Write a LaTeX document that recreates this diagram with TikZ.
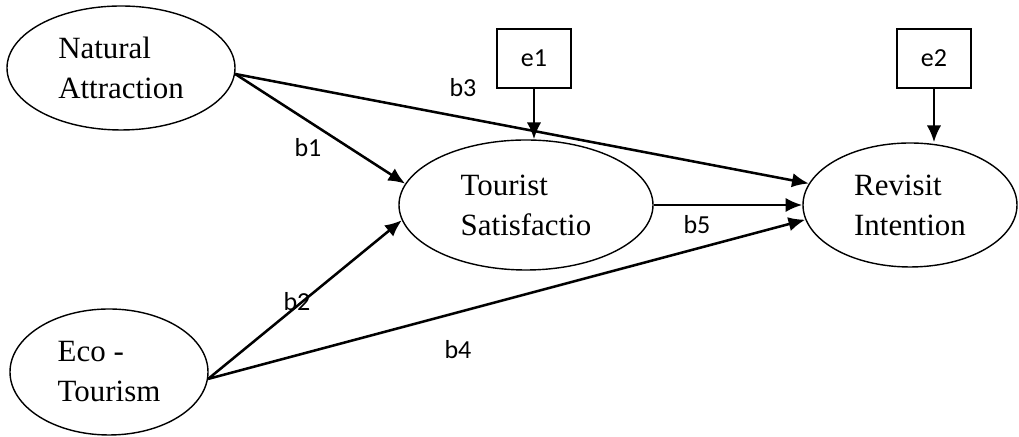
\documentclass[tikz,border=0pt]{standalone}
\usepackage{fontspec}
\setmainfont{Liberation Serif}
\newfontfamily\coeffont{Carlito}
\usepackage{tikz}
\usetikzlibrary{arrows.meta,positioning,shapes.geometric}
\tikzset{
  latent/.style={draw=black, ellipse, line width=1pt, inner sep=0pt, align=left, font=\fontsize{22}{28.5}\selectfont},
  errbox/.style={draw=black, line width=1.5pt, minimum width=1.85cm, minimum height=1.475cm, inner sep=0pt, font=\coeffont\fontsize{18.5}{22}\selectfont},
  arrow/.style={-{Latex[length=4.2mm,width=3.6mm]}, line width=1.8pt},
  coef/.style={font=\coeffont\fontsize{18.5}{22}\selectfont, inner sep=0pt}
}
\begin{document}
\begin{tikzpicture}
\useasboundingbox (0,0) rectangle (25.475,10.925);
% ---- latent variables ----
\node[latent, minimum width=5.7cm, minimum height=3.1cm] (nat) at (3.025,9.225) {Natural\\Attraction};
\node[latent, minimum width=4.95cm, minimum height=3.15cm] (eco) at (2.725,1.625) {Eco -\\Tourism};
\node[latent, minimum width=6.35cm, minimum height=3.25cm] (sat) at (13.15,5.8) {Tourist\\Satisfactio};
\node[latent, minimum width=5.35cm, minimum height=3.1cm] (rev) at (22.75,5.8) {Revisit\\Intention};
% ---- error terms ----
\node[errbox] (e1) at (13.35,9.46) {e1};
\node[errbox] (e2) at (23.35,9.46) {e2};
% ---- paths ----
\draw[arrow] (nat.-3) -- (sat.170);
\draw[arrow] (nat.-3) -- (rev.168);
\draw[arrow] (eco.-4) -- (sat.187);
\draw[arrow] (eco.-4) -- (rev.188);
\draw[arrow] (sat) -- (rev);
\draw[arrow] (e1) -- (e1 |- sat.north);
\draw[arrow] (e2) -- (e2 |- rev.north);
% ---- coefficients ----
\node[coef] (b1) at (7.7,7.225) {b1};
\node[coef] (b2) at (7.425,3.375) {b2};
\node[coef] (b3) at (11.575,8.725) {b3};
\node[coef] (b4) at (11.45,2.175) {b4};
\node[coef] (b5) at (17.425,5.3) {b5};
\end{tikzpicture}
\end{document}
